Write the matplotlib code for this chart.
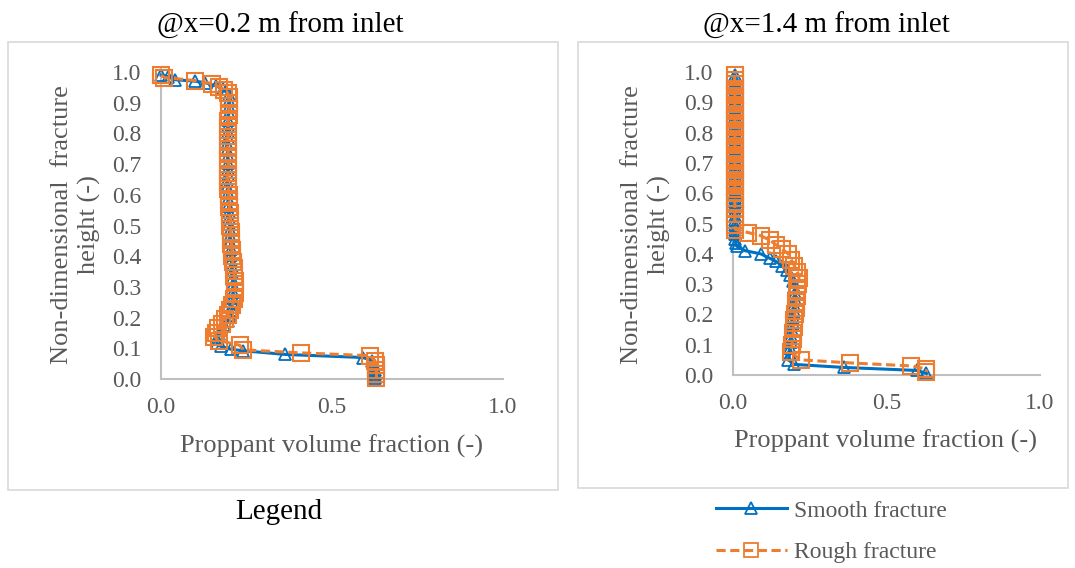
import matplotlib.pyplot as plt
from matplotlib.lines import Line2D
from matplotlib.patches import Rectangle

plt.rcParams['font.family'] = ['Liberation Serif', 'DejaVu Serif']

# ---- data, (volume fraction, height) pairs ----
# @x=0.2 m, smooth fracture
smooth_02 = [
    (0.000, 0.990), (0.020, 0.985), (0.040, 0.975), (0.100, 0.970), (0.130, 0.965),
    (0.160, 0.955), (0.180, 0.945), (0.190, 0.935), (0.200, 0.925),
    (0.200, 0.905), (0.199, 0.885), (0.198, 0.865), (0.197, 0.845), (0.196, 0.825),
    (0.195, 0.805), (0.195, 0.785), (0.194, 0.765), (0.194, 0.745), (0.195, 0.725),
    (0.195, 0.705), (0.196, 0.685), (0.195, 0.665), (0.194, 0.645), (0.194, 0.625),
    (0.195, 0.605), (0.196, 0.585), (0.197, 0.565), (0.198, 0.545), (0.199, 0.525),
    (0.200, 0.505), (0.201, 0.485), (0.202, 0.465), (0.203, 0.445), (0.204, 0.425),
    (0.205, 0.405), (0.206, 0.385), (0.207, 0.365), (0.208, 0.345), (0.209, 0.325),
    (0.210, 0.305), (0.211, 0.285), (0.211, 0.265), (0.210, 0.245), (0.208, 0.225),
    (0.203, 0.205), (0.195, 0.190), (0.185, 0.175), (0.176, 0.160), (0.170, 0.145),
    (0.165, 0.130), (0.163, 0.116), (0.175, 0.106), (0.204, 0.097), (0.240, 0.092),
    (0.364, 0.080), (0.590, 0.070), (0.618, 0.060), (0.622, 0.045), (0.625, 0.030),
    (0.625, 0.015), (0.625, 0.003),
]
# @x=0.2 m, rough fracture
rough_02 = [
    (0.000, 0.990), (0.010, 0.982), (0.100, 0.972), (0.150, 0.962), (0.170, 0.952),
    (0.185, 0.942), (0.195, 0.932), (0.200, 0.920),
    (0.200, 0.900), (0.199, 0.880), (0.198, 0.860), (0.197, 0.840), (0.196, 0.820),
    (0.196, 0.800), (0.195, 0.780), (0.195, 0.760), (0.196, 0.740), (0.197, 0.720),
    (0.197, 0.700), (0.196, 0.680), (0.195, 0.660), (0.196, 0.640), (0.197, 0.620),
    (0.198, 0.600), (0.199, 0.580), (0.200, 0.560), (0.201, 0.540), (0.202, 0.520),
    (0.203, 0.500), (0.204, 0.480), (0.205, 0.460), (0.206, 0.440), (0.207, 0.420),
    (0.208, 0.400), (0.210, 0.380), (0.212, 0.360), (0.214, 0.340), (0.216, 0.320),
    (0.217, 0.300), (0.216, 0.280), (0.213, 0.260), (0.209, 0.240), (0.203, 0.225),
    (0.196, 0.210), (0.187, 0.195), (0.177, 0.180), (0.167, 0.165), (0.160, 0.150),
    (0.156, 0.138), (0.170, 0.125), (0.230, 0.110), (0.240, 0.095), (0.410, 0.085),
    (0.610, 0.076), (0.625, 0.060), (0.628, 0.045), (0.630, 0.030), (0.630, 0.015),
    (0.630, 0.003),
]

# @x=1.4 m, smooth fracture
smooth_14 = [
    (0.005, 0.990), (0.006, 0.975), (0.006, 0.960), (0.007, 0.945), (0.007, 0.930),
    (0.007, 0.915), (0.007, 0.900), (0.007, 0.885), (0.007, 0.870), (0.007, 0.855),
    (0.007, 0.840), (0.007, 0.825), (0.007, 0.810), (0.007, 0.795), (0.007, 0.780),
    (0.007, 0.765), (0.007, 0.750), (0.007, 0.735), (0.007, 0.720), (0.007, 0.705),
    (0.007, 0.690), (0.007, 0.675), (0.007, 0.660), (0.007, 0.645), (0.007, 0.630),
    (0.007, 0.615), (0.007, 0.600), (0.007, 0.585), (0.007, 0.570), (0.007, 0.555),
    (0.007, 0.540), (0.007, 0.525), (0.007, 0.510), (0.007, 0.495), (0.007, 0.480),
    (0.007, 0.465), (0.008, 0.450), (0.009, 0.437), (0.012, 0.425), (0.040, 0.410),
    (0.090, 0.400), (0.120, 0.385), (0.140, 0.375), (0.160, 0.360), (0.175, 0.345),
    (0.185, 0.330), (0.195, 0.310), (0.200, 0.290), (0.203, 0.270), (0.202, 0.250),
    (0.200, 0.230), (0.198, 0.210), (0.196, 0.190), (0.194, 0.170), (0.192, 0.150),
    (0.190, 0.130), (0.188, 0.110), (0.186, 0.090), (0.185, 0.070), (0.180, 0.050),
    (0.200, 0.035), (0.360, 0.025), (0.600, 0.015), (0.630, 0.005),
]
# @x=1.4 m, rough fracture
rough_14 = [
    (0.005, 0.990), (0.005, 0.975), (0.005, 0.960), (0.006, 0.945), (0.006, 0.930),
    (0.006, 0.915), (0.006, 0.900), (0.006, 0.885), (0.006, 0.870), (0.006, 0.855),
    (0.006, 0.840), (0.006, 0.825), (0.006, 0.810), (0.006, 0.795), (0.006, 0.780),
    (0.006, 0.765), (0.006, 0.750), (0.006, 0.735), (0.006, 0.720), (0.006, 0.705),
    (0.006, 0.690), (0.006, 0.675), (0.006, 0.660), (0.006, 0.645), (0.006, 0.630),
    (0.006, 0.615), (0.006, 0.600), (0.006, 0.585), (0.006, 0.570), (0.006, 0.550),
    (0.006, 0.530), (0.006, 0.510), (0.006, 0.495), (0.008, 0.480), (0.050, 0.470),
    (0.090, 0.460), (0.120, 0.445), (0.140, 0.430), (0.160, 0.415), (0.180, 0.400),
    (0.190, 0.380), (0.200, 0.360), (0.210, 0.340), (0.215, 0.320), (0.212, 0.300),
    (0.210, 0.280), (0.208, 0.260), (0.206, 0.240), (0.204, 0.220), (0.202, 0.200),
    (0.200, 0.180), (0.198, 0.160), (0.196, 0.140), (0.194, 0.120), (0.192, 0.100),
    (0.190, 0.075), (0.220, 0.050), (0.380, 0.040), (0.580, 0.030), (0.630, 0.020),
    (0.630, 0.010),
]

titles = ['@x=0.2 m from inlet', '@x=1.4 m from inlet']
x_ticks = [0.0, 0.5, 1.0]
y_ticks = [0.0, 0.1, 0.2, 0.3, 0.4, 0.5, 0.6, 0.7, 0.8, 0.9, 1.0]

W, H = 1075, 568
blue = '#0070C0'
orange = '#ED7D31'
tick_gray = '#595959'
spine_gray = '#BFBFBF'
box_gray = '#D9D9D9'

fig = plt.figure(figsize=(W / 100, H / 100), dpi=100)


def px_axes(x0, x1, ytop, ybot):
    return fig.add_axes([x0 / W, 1 - ybot / H, (x1 - x0) / W, (ybot - ytop) / H])


# outer boxes of the two chart objects
for (bx0, by0, bx1, by1) in [(8, 42, 558, 490), (578, 42, 1068, 488)]:
    fig.patches.append(Rectangle((bx0 / W, 1 - by1 / H), (bx1 - bx0) / W, (by1 - by0) / H,
                                 transform=fig.transFigure, fill=False,
                                 edgecolor=box_gray, linewidth=1.2))

panels = [
    dict(ax=px_axes(161, 503, 72, 379), s=smooth_02, r=rough_02,
         title_xy=(280, 25), ylab_x=76, xlab_y=446, xc=332),
    dict(ax=px_axes(733, 1040, 72, 375), s=smooth_14, r=rough_14,
         title_xy=(826, 25), ylab_x=646, xlab_y=441, xc=886),
]

for i, p in enumerate(panels):
    ax = p['ax']
    sx, sy = zip(*p['s'])
    rx, ry = zip(*p['r'])
    ax.plot(sx, sy, color=blue, linewidth=2.2, marker='^', markersize=9,
            markerfacecolor='none', markeredgecolor=blue, markeredgewidth=1.3,
            clip_on=False, zorder=3)
    ax.plot(rx, ry, color=orange, linewidth=2.2, linestyle=(0, (3, 1.5)),
            marker='s', markersize=11, markerfacecolor='none', markeredgecolor=orange,
            markeredgewidth=1.5, clip_on=False, zorder=4)
    ax.set_xlim(0, 1.0)
    ax.set_ylim(0, 1.0)
    ax.set_xticks(x_ticks)
    ax.set_xticklabels([f'{v:.1f}' for v in x_ticks])
    ax.set_yticks(y_ticks)
    ax.set_yticklabels([f'{v:.1f}' for v in y_ticks])
    ax.tick_params(length=0, labelsize=17, labelcolor=tick_gray)
    ax.tick_params(axis='y', pad=14)
    ax.tick_params(axis='x', pad=13)
    for side in ['top', 'right']:
        ax.spines[side].set_visible(False)
    for side in ['left', 'bottom']:
        ax.spines[side].set_color(spine_gray)
        ax.spines[side].set_linewidth(1.5)
    ax.patch.set_visible(False)

    tx, ty = p['title_xy']
    fig.text(tx / W, 1 - ty / H, titles[i], ha='center', va='center', fontsize=21,
             color='black')
    fig.text(p['ylab_x'] / W, 1 - 225 / H, 'Non-dimensional  fracture\nheight (-)',
             ha='center', va='center', rotation=90, fontsize=19, color=tick_gray,
             linespacing=1.25)
    fig.text(p['xc'] / W, 1 - p['xlab_y'] / H, 'Proppant volume fraction (-)',
             ha='center', va='center', fontsize=19, color=tick_gray)

fig.text(279 / W, 1 - 512 / H, 'Legend', ha='center', va='center', fontsize=21,
         color='black')

handles = [
    Line2D([], [], color=blue, linewidth=2.2, marker='^', markersize=9,
           markerfacecolor='none', markeredgecolor=blue, markeredgewidth=1.3),
    Line2D([], [], color=orange, linewidth=2.2, linestyle=(0, (3, 1.5)), marker='s',
           markersize=10, markerfacecolor='none', markeredgecolor=orange,
           markeredgewidth=1.3),
]
fig.legend(handles, ['Smooth fracture', 'Rough fracture'],
           loc='upper left', bbox_to_anchor=(716 / W, 1 - 500 / H),
           frameon=False, fontsize=17, handlelength=3.0, handletextpad=0.3,
           labelspacing=0.85, labelcolor=tick_gray, borderaxespad=0, borderpad=0)

fig.savefig('out.png', dpi=100)
